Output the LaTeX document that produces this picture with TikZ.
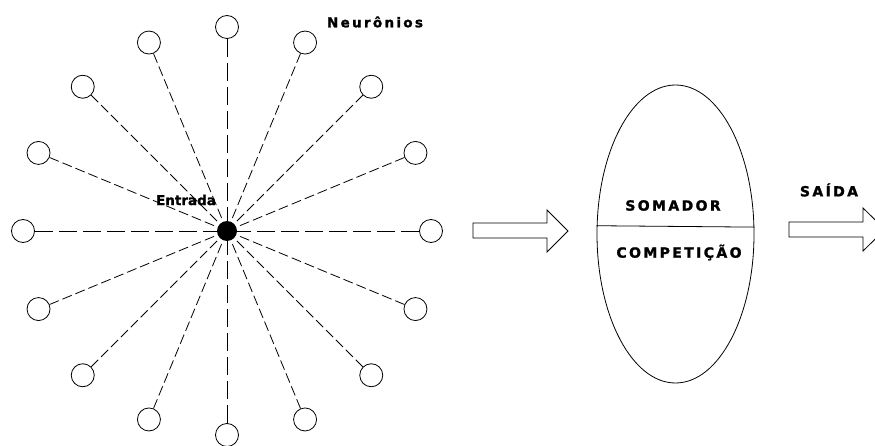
\documentclass[tikz,border=0pt]{standalone}
\usepackage{fontspec}
\newfontfamily\lbl{DejaVu Sans}[BoldFont={DejaVu Sans Bold},LetterSpace=17,FakeBold=1.5]
\newfontfamily\lblb{DejaVu Sans}[BoldFont={DejaVu Sans Bold},LetterSpace=0,FakeBold=1.5]
\usetikzlibrary{shapes.geometric,calc}
\begin{document}
\begin{tikzpicture}[x=1pt,y=-1pt,line width=0.8pt,
  neuron/.style={circle,draw,minimum size=23pt,inner sep=0pt},
  hub/.style={circle,fill=black,minimum size=20pt,inner sep=0pt},
  longdash/.style={dash pattern=on 18pt off 6pt},
  shortdash/.style={dash pattern=on 10pt off 4pt},
  lab/.style={inner sep=0pt,font=\lbl\bfseries\fontsize{14}{16}\selectfont},
  labn/.style={inner sep=0pt,font=\lbl\bfseries\fontsize{13.5}{16}\selectfont},
  labb/.style={inner sep=0pt,font=\lblb\bfseries\fontsize{13.5}{16}\selectfont},
  bigarrow/.style={draw,fill=white,line width=0.8pt,line join=miter}]
\useasboundingbox (0,0) rectangle (875,446);
\clip (0,0) rectangle (875,446);
\fill[white] (0,0) rectangle (875,446);
% star of neurons
\node[hub] (c) at (227,231) {};
\foreach \i in {0,...,15}{
  \pgfmathsetmacro{\ang}{\i*22.5}
  \node[neuron] (n\i) at ($(227,231)+(\ang:204)$) {};
}
\foreach \i in {0,4,8,12}{\draw[longdash] (n\i) -- (c);}
\foreach \i in {1,2,3,5,6,7,9,10,11,13,14,15}{\draw[shortdash] (n\i) -- (c);}
\node[labn] (neur) at (375,22) {Neurônios};
\node[labb] (ent) at (186,200) {Entrada};
% input arrow
\draw[bigarrow] (473,223) -- (547,223) -- (547,210) -- (568,231) -- (547,252) -- (547,238) -- (473,238) -- cycle;
% ellipse
\node[ellipse,draw,minimum width=157pt,minimum height=298pt,inner sep=0pt] (E) at (675.5,234) {};
\draw (E.174.9) -- (E.5.1);
\node[lab] (som) at (673,205.5) {SOMADOR};
\node[lab] (comp) at (679,252.5) {COMPETIÇÃO};
% output
\node[lab] (said) at (829,190) {SAÍDA};
\draw[bigarrow] (789,222) -- (863,222) -- (863,208) -- (885,229.5) -- (863,251) -- (863,237) -- (789,237) -- cycle;
\end{tikzpicture}
\end{document}
